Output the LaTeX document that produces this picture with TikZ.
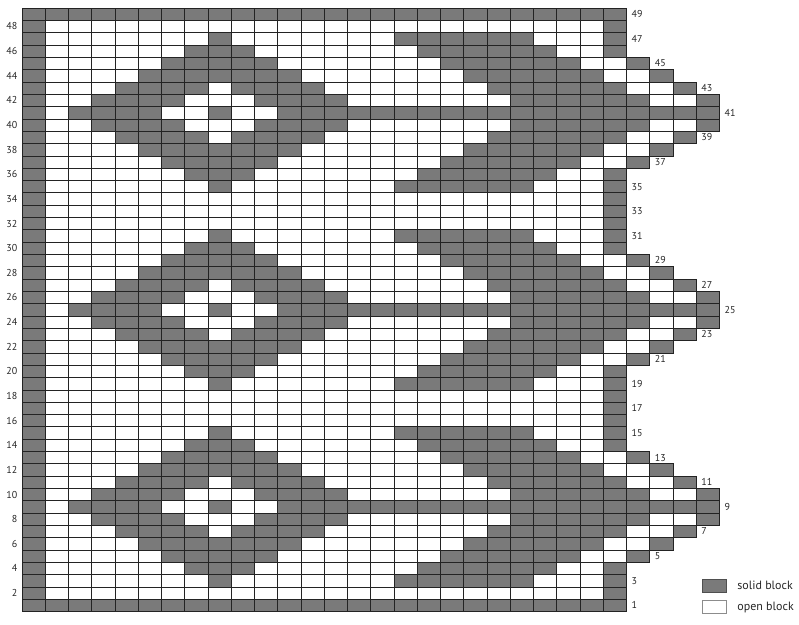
\documentclass[tikz,border=0pt]{standalone}
\usepackage{fontspec}
\setmainfont{PT Sans}
\usetikzlibrary{positioning}
\definecolor{blockgray}{RGB}{122,122,122}
\definecolor{gridline}{RGB}{35,35,35}

% run of solid blocks: row, first column, last column
\newcommand{\solidrun}[3]{\fill[blockgray] (#2-1,#1-1) rectangle (#3,#1);}

\begin{document}
\begin{tikzpicture}[x=23.25pt, y=12.316pt, font=\fontsize{10pt}{12pt}\selectfont,
    gridrule/.style={gridline, line width=0.6pt},
    rowlabel/.style={inner sep=0pt, text=black!85},
    keytext/.style={inner sep=0pt, text=black!85, font=\fontsize{12pt}{14pt}\selectfont},
    keybox/.style={line width=0.5pt, minimum width=23.3pt, minimum height=12.6pt, inner sep=0pt}]
  \useasboundingbox (-22pt,-12.5pt) rectangle (777pt,611.5pt);

  % border blocks
  \fill[blockgray] (0,0) rectangle (26,1);
  \fill[blockgray] (0,48) rectangle (26,49);
  \fill[blockgray] (0,0) rectangle (1,49);
  \foreach \lo/\hi in {0/4,13/20,29/36,45/49}
    \fill[blockgray] (25,\lo) rectangle (26,\hi);

  % diamond, bar and pointed edge, three times
  \foreach \m in {9,25,41}{
    \solidrun{\m}{3}{6}
    \solidrun{\m}{9}{9}
    \solidrun{\m}{12}{30}
    \foreach \s in {1,-1}{
      \pgfmathtruncatemacro{\rone}{\m+\s}
      \pgfmathtruncatemacro{\rtwo}{\m+2*\s}
      \solidrun{\rone}{4}{7}
      \solidrun{\rone}{11}{14}
      \solidrun{\rtwo}{5}{8}
      \solidrun{\rtwo}{10}{13}
      \foreach \a in {1,...,6}{
        \pgfmathtruncatemacro{\rw}{\m+\s*\a}
        \ifnum\a>2 \solidrun{\rw}{3+\a}{15-\a}\fi
        \solidrun{\rw}{23-\a}{28-\a}
        \ifnum\a<5 \solidrun{\rw}{31-\a}{31-\a}\fi
      }
    }
  }

  % grid
  \foreach \col in {0,...,26}
    \draw[gridrule] (\col,0) -- (\col,49);
  \foreach \rw in {0,...,49}
    \draw[gridrule] (0,\rw) -- (26,\rw);
  \foreach \m in {9,25,41}
    \foreach \a/\tip in {0/30,1/30,2/29,3/28,4/27}
      \foreach \s in {1,-1}{
        \pgfmathtruncatemacro{\rw}{\m+\s*\a}
        \foreach \col in {27,...,\tip}
          \draw[gridrule] (\col-1,\rw-1) rectangle (\col,\rw);
      }

  % row numbers
  \foreach \rw in {2,4,...,48}
    \node[rowlabel, anchor=east] (left\rw) at ([xshift=-4.5pt]0,\rw-0.5) {\rw};
  \foreach \rw in {1,3,...,49}{
    \pgfmathtruncatemacro{\dist}{min(abs(\rw-9),abs(\rw-25),abs(\rw-41))}
    \pgfmathtruncatemacro{\tip}{\dist>4 ? 26 : (\dist==0 ? 30 : 31-\dist)}
    \node[rowlabel, anchor=west] (right\rw) at ([xshift=5pt]\tip,\rw-0.5) {\rw};
  }

  % key
  \node[keybox, draw=gridline!80, fill=blockgray] (solidkey) at (692.3pt,26pt) {};
  \node[keybox, draw=black!45, fill=white] (openkey) at (692.3pt,4.5pt) {};
  \node[keytext, right=11pt of solidkey] (solidtext) {solid block};
  \node[keytext, right=11pt of openkey] (opentext) {open block};
\end{tikzpicture}
\end{document}
